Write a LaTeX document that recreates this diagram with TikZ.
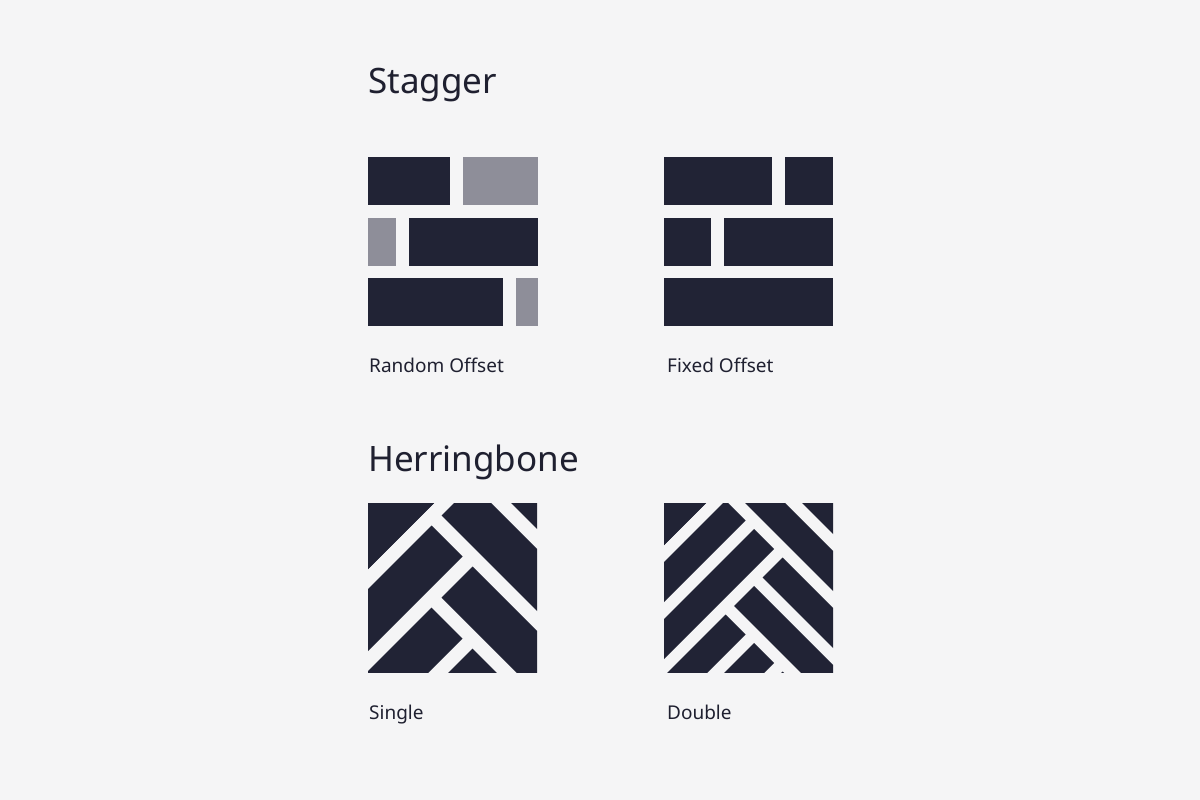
\documentclass[tikz,border=0pt]{standalone}
\usepackage{fontspec}
\setmainfont{Noto Sans}
\definecolor{bgc}{HTML}{F5F5F6}
\definecolor{tile}{HTML}{212335}
\definecolor{tilegray}{HTML}{8E8E99}
\definecolor{txt}{HTML}{1F2030}
\tikzset{
  darkbox/.style={fill=tile},
  graybox/.style={fill=tilegray},
  heading/.style={anchor=base west, inner sep=0pt, text=txt, font=\fontsize{35}{42}\selectfont},
  caption/.style={anchor=base west, inner sep=0pt, text=txt, font=\fontsize{19}{23}\selectfont},
}
\begin{document}
\begin{tikzpicture}[x=1pt,y=-1pt]
\fill[bgc] (0,0) rectangle (1200,800);
\useasboundingbox (0,0) rectangle (1200,800);

% headings
\node[heading] (stagger) at (368,93.5) {Stagger};
\node[heading] (herring) at (368,471) {Herringbone};

% Random offset
\fill[darkbox] (368,157) rectangle (450,205);
\fill[graybox] (463,157) rectangle (537.5,205);
\fill[graybox] (368,217.5) rectangle (396,265.5);
\fill[darkbox] (409,217.5) rectangle (537.5,265.5);
\fill[darkbox] (368,278) rectangle (503,326);
\fill[graybox] (516,278) rectangle (537.5,326);

% Fixed offset
\fill[darkbox] (664,157) rectangle (772,205);
\fill[darkbox] (785,157) rectangle (833,205);
\fill[darkbox] (664,217.5) rectangle (711,265.5);
\fill[darkbox] (724,217.5) rectangle (833,265.5);
\fill[darkbox] (664,278) rectangle (833,326);

\node[caption] (random) at (369,372) {Random Offset};
\node[caption] (fixed) at (667,372) {Fixed Offset};

% Single herringbone (u = x+y, v = x-y)
\begin{scope}
\clip (368,503) rectangle (537,672);
\begin{scope}[x={(0.5pt,-0.5pt)}, y={(0.5pt,0.5pt)}]
\foreach \k in {-2,...,3}{
  \pgfmathsetmacro\ua{957+82*\k}
  \pgfmathsetmacro\ub{\ua+62}
  \pgfmathsetmacro\ve{-94-82*\k}
  \pgfmathsetmacro\va{\ve+20}
  \pgfmathsetmacro\vb{\va+62}
  \fill[darkbox] (\ua,\ve-600) -- (\ub,\ve-600) -- (\ub,\ve) -- (\ua,\ve) -- cycle;
  \fill[darkbox] (\ua,\va) -- (\ua+600,\va) -- (\ua+600,\vb) -- (\ua,\vb) -- cycle;
}
% corner piece
\fill[darkbox] (840,-600) -- (937,-600) -- (937,-12) -- (840,-12) -- cycle;
\end{scope}
\end{scope}

% Double herringbone
\begin{scope}
\clip (664,503) rectangle (833,672);
\begin{scope}[x={(0.5pt,-0.5pt)}, y={(0.5pt,0.5pt)}]
\foreach \k in {-2,...,3}{
  \pgfmathsetmacro\ua{1226+114*\k}
  \pgfmathsetmacro\ub{\ua+40}
  \pgfmathsetmacro\uc{\ua+57}
  \pgfmathsetmacro\ud{\ua+97}
  \pgfmathsetmacro\ve{225-114*\k}
  \pgfmathsetmacro\va{\ve+17}
  \pgfmathsetmacro\vb{\ve+57}
  \pgfmathsetmacro\vc{\ve+74}
  \pgfmathsetmacro\vd{\ve+114}
  \fill[darkbox] (\ua,\ve-600) -- (\ub,\ve-600) -- (\ub,\ve) -- (\ua,\ve) -- cycle;
  \fill[darkbox] (\uc,\ve-600) -- (\ud,\ve-600) -- (\ud,\ve) -- (\uc,\ve) -- cycle;
  \fill[darkbox] (\ua,\va) -- (\ua+600,\va) -- (\ua+600,\vb) -- (\ua,\vb) -- cycle;
  \fill[darkbox] (\ua,\vc) -- (\ua+600,\vc) -- (\ua+600,\vd) -- (\ua,\vd) -- cycle;
}
% corner piece
\fill[darkbox] (1100,-300) -- (1209,-300) -- (1209,339) -- (1100,339) -- cycle;
\end{scope}
\end{scope}

\node[caption] (single) at (369,719.5) {Single};
\node[caption] (double) at (667,719.5) {Double};
\end{tikzpicture}
\end{document}
